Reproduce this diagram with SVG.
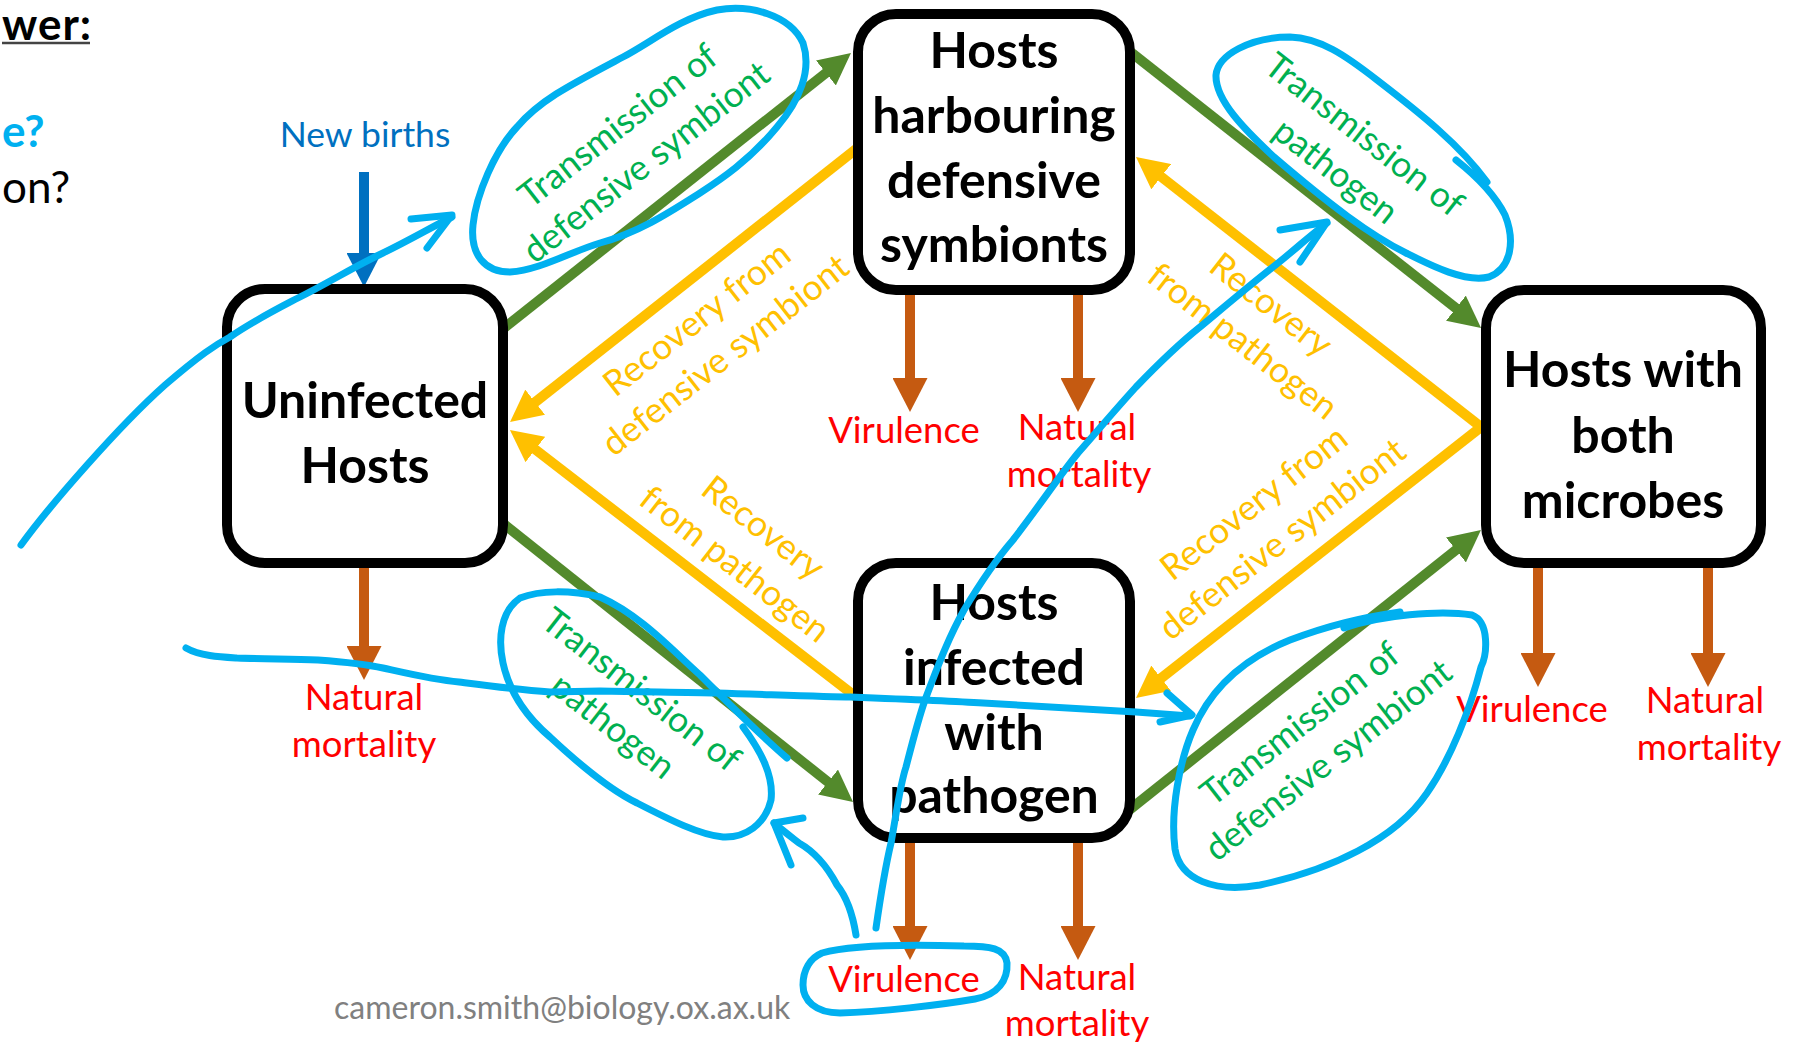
<svg xmlns="http://www.w3.org/2000/svg" width="1798" height="1042" viewBox="0 0 1798 1042">
  <style>
    .box { fill:#ffffff; stroke:#000000; stroke-width:10; }
    .bt { font-family:Lato, "Liberation Sans", sans-serif; font-weight:bold; font-size:50px; text-anchor:middle; fill:#000000; }
    .lbl { font-family:Lato, "Liberation Sans", sans-serif; font-size:35.5px; text-anchor:middle; }
    .red { fill:#ff0000; font-size:36.5px; }
    .grn { fill:#00b050; }
    .yel { fill:#ffc000; }
    .cg { stroke:#538a2c; stroke-width:10; fill:none; marker-end:url(#hg); }
    .cy { stroke:#ffc000; stroke-width:10; fill:none; marker-end:url(#hy); }
    .cb { stroke:#c55a11; stroke-width:10; fill:none; marker-end:url(#hb); }
    .cn { stroke:#0070c0; stroke-width:10; fill:none; marker-end:url(#hn); }
    .ink { stroke:#00b0f0; stroke-width:7; fill:none; stroke-linecap:round; stroke-linejoin:round; }
    .frag { font-family:Lato, "Liberation Sans", sans-serif; font-size:44px; }
  </style>
  <defs>
    <marker id="hg" viewBox="0 0 32 32" refX="1" refY="16" markerWidth="32" markerHeight="32" markerUnits="userSpaceOnUse" orient="auto">
      <path d="M0,0 L32,16 L0,32 Z" fill="#538a2c"/>
    </marker>
    <marker id="hy" viewBox="0 0 32 32" refX="1" refY="16" markerWidth="32" markerHeight="32" markerUnits="userSpaceOnUse" orient="auto">
      <path d="M0,0 L32,16 L0,32 Z" fill="#ffc000"/>
    </marker>
    <marker id="hb" viewBox="0 0 34 35" refX="1" refY="17.5" markerWidth="34" markerHeight="35" markerUnits="userSpaceOnUse" orient="auto">
      <path d="M0,0 L34,17.5 L0,35 Z" fill="#c55a11"/>
    </marker>
    <marker id="hn" viewBox="0 0 34 35" refX="1" refY="17.5" markerWidth="34" markerHeight="35" markerUnits="userSpaceOnUse" orient="auto">
      <path d="M0,0 L34,17.5 L0,35 Z" fill="#0070c0"/>
    </marker>
  </defs>

  <rect width="1798" height="1042" fill="#ffffff"/>

  <!-- slide text at the left edge -->
  <g id="slide-fragments">
    <text class="frag" x="2" y="40" font-size="40" letter-spacing="1" font-weight="bold" fill="#000000">wer:</text>
    <line x1="2" y1="43" x2="90" y2="43" stroke="#444444" stroke-width="2.5"/>
    <text class="frag" x="2" y="147" font-weight="bold" fill="#00b0f0">e?</text>
    <text class="frag" x="2" y="203" fill="#000000">on?</text>
  </g>

  <!-- transitions between compartments -->
  <g id="connectors">
    <!-- transmission (green) -->
    <path class="cg" d="M499,332 L826.7,72.3"/>
    <path class="cg" d="M1128,50 L1456.7,308.8"/>
    <path class="cg" d="M500,521 L828.8,782.7"/>
    <path class="cg" d="M1128,811 L1456.7,549.3"/>
    <!-- recovery (yellow) -->
    <path class="cy" d="M860,146 L534.4,402.8"/>
    <path class="cy" d="M860,700 L534.5,448.9"/>
    <path class="cy" d="M1486.5,431.3 L1160.4,176.1"/>
    <path class="cy" d="M1486.5,422.7 L1160.4,678.8"/>
    <!-- losses (brown) -->
    <path class="cb" d="M364,566 V647"/>
    <path class="cb" d="M910,293 V379"/>
    <path class="cb" d="M1078,293 V379"/>
    <path class="cb" d="M910,841 V927"/>
    <path class="cb" d="M1078,841 V927"/>
    <path class="cb" d="M1538,566 V654"/>
    <path class="cb" d="M1708,566 V654"/>
    <!-- births (blue) -->
    <path class="cn" d="M364,172 V254"/>
  </g>

  <!-- compartments -->
  <g id="node-uninfected">
    <rect class="box" x="227" y="289" width="276" height="274" rx="38"/>
    <text class="bt" x="365" y="418">Uninfected</text>
    <text class="bt" x="365" y="483">Hosts</text>
  </g>
  <g id="node-symbiont">
    <rect class="box" x="858" y="14" width="272" height="276" rx="38"/>
    <text class="bt" x="994" y="68">Hosts</text>
    <text class="bt" x="994" y="133">harbouring</text>
    <text class="bt" x="994" y="198">defensive</text>
    <text class="bt" x="994" y="262">symbionts</text>
  </g>
  <g id="node-pathogen">
    <rect class="box" x="858" y="563" width="272" height="275" rx="38"/>
    <text class="bt" x="994" y="620">Hosts</text>
    <text class="bt" x="994" y="685">infected</text>
    <text class="bt" x="994" y="750">with</text>
    <text class="bt" x="994" y="813">pathogen</text>
  </g>
  <g id="node-both">
    <rect class="box" x="1486" y="290" width="275" height="273" rx="38"/>
    <text class="bt" x="1623" y="387">Hosts with</text>
    <text class="bt" x="1623" y="453">both</text>
    <text class="bt" x="1623" y="518">microbes</text>
  </g>

  <!-- rate labels -->
  <g id="labels">
    <text class="lbl" x="365" y="147" fill="#0070c0">New births</text>

    <g transform="translate(632,144) rotate(-38)">
      <text class="lbl grn" x="0" y="-11">Transmission of</text>
      <text class="lbl grn" x="0" y="35">defensive symbiont</text>
    </g>
    <g transform="translate(1350,153) rotate(38)">
      <text class="lbl grn" x="0" y="-11">Transmission of</text>
      <text class="lbl grn" x="0" y="35">pathogen</text>
    </g>
    <g transform="translate(627,708) rotate(38)">
      <text class="lbl grn" x="0" y="-11">Transmission of</text>
      <text class="lbl grn" x="0" y="35">pathogen</text>
    </g>
    <g transform="translate(1314,742) rotate(-38)">
      <text class="lbl grn" x="0" y="-11">Transmission of</text>
      <text class="lbl grn" x="0" y="35">defensive symbiont</text>
    </g>

    <g transform="translate(711,337) rotate(-38)">
      <text class="lbl yel" x="0" y="-11">Recovery from</text>
      <text class="lbl yel" x="0" y="35">defensive symbiont</text>
    </g>
    <g transform="translate(749,546) rotate(38)">
      <text class="lbl yel" x="0" y="-11">Recovery</text>
      <text class="lbl yel" x="0" y="35">from pathogen</text>
    </g>
    <g transform="translate(1257,323) rotate(38)">
      <text class="lbl yel" x="0" y="-11">Recovery</text>
      <text class="lbl yel" x="0" y="35">from pathogen</text>
    </g>
    <g transform="translate(1268,521) rotate(-38)">
      <text class="lbl yel" x="0" y="-11">Recovery from</text>
      <text class="lbl yel" x="0" y="35">defensive symbiont</text>
    </g>

    <text class="lbl red" x="364" y="710">Natural</text>
    <text class="lbl red" x="364" y="757">mortality</text>
    <text class="lbl red" x="904" y="443">Virulence</text>
    <text class="lbl red" x="1077" y="440">Natural</text>
    <text class="lbl red" x="1079" y="487">mortality</text>
    <text class="lbl red" x="904" y="992">Virulence</text>
    <text class="lbl red" x="1077" y="990">Natural</text>
    <text class="lbl red" x="1077" y="1036">mortality</text>
    <text class="lbl red" x="1532" y="722">Virulence</text>
    <text class="lbl red" x="1705" y="713">Natural</text>
    <text class="lbl red" x="1709" y="760">mortality</text>

    <text x="334" y="1019" font-family="Lato, 'Liberation Sans', sans-serif" font-size="32" fill="#808080">cameron.smith@biology.ox.ax.uk</text>
  </g>

  <!-- pen annotations -->
  <g id="annotations">
    <path class="ink" d="M21,545 C50,505 120,425 165,385 C200,355 215,345 230,337 C255,320 275,310 298,298 C330,282 355,266 383,253 C410,240 430,228 452,217"/>
    <path class="ink" d="M411,219 L452,215 L427,248"/>

    <path class="ink" d="M803,43 C812,70 800,100 777,127 C750,160 720,180 700,193 C670,212 640,232 600,243 C570,252 540,270 510,272 C485,272 470,255 473,225 C476,195 495,150 517,127 C540,100 570,85 623,57 C650,43 680,18 717,10 C750,4 790,15 803,43 Z"/>

    <path class="ink" d="M1456,160 C1475,175 1495,195 1505,215 C1515,240 1512,268 1489,277 C1465,283 1430,265 1406,253 C1370,235 1330,205 1274,157 C1245,130 1215,100 1216,75 C1218,55 1250,37 1290,37 C1320,38 1345,55 1377,80 C1420,113 1460,145 1487,182"/>

    <path class="ink" stroke-width="8" d="M876,928 C880,900 887,860 891,843 C897,810 900,785 906,767 C913,740 918,720 925,700 C940,660 950,635 964,610 C985,575 1000,555 1013,540 C1040,505 1060,475 1078,453 C1100,428 1115,410 1136,387 C1160,362 1180,343 1200,327 C1230,302 1250,285 1273,267 C1295,250 1310,235 1327,223"/>
    <path class="ink" stroke-width="9" d="M1280,230 L1327,222 L1300,262"/>

    <path class="ink" d="M186,648 C200,656 220,657 237,658 C265,659 290,659 318,660 C345,662 365,664 383,668 C410,674 435,680 459,682 C490,686 520,690 550,692 L600,691 C650,692 690,692 717,693 C780,695 830,697 850,697 C900,699 950,701 983,703 C1050,707 1100,710 1136,712 L1190,716"/>
    <path class="ink" d="M1167,693 L1192,715 L1160,722"/>

    <path class="ink" d="M787,758 C760,735 730,705 700,675 C670,648 640,615 600,597 C570,590 540,590 520,598 C500,612 498,640 503,663 C510,695 530,720 550,737 C580,765 610,790 637,803 C670,820 700,835 723,837 C745,838 765,825 771,800 C774,775 760,750 743,727"/>

    <path class="ink" d="M856,935 C852,910 845,895 837,885 C828,868 815,852 799,843 C790,836 782,830 774,823"/>
    <path class="ink" d="M803,818 L774,823 L791,865"/>

    <path class="ink" d="M822,953 C850,945 900,944 964,946 C990,946 1005,948 1007,963 C1008,980 998,995 975,999 C940,1005 880,1012 840,1013 C815,1013 803,1000 803,985 C803,970 810,958 822,953 Z"/>

    <path class="ink" d="M1344,628 C1380,615 1440,610 1472,615 C1490,622 1487,655 1481,667 C1470,710 1450,760 1427,793 C1395,840 1330,870 1260,885 C1215,893 1180,880 1175,849 C1170,810 1180,760 1193,730 C1210,690 1240,660 1290,640 C1330,625 1360,618 1400,612"/>
  </g>
</svg>
